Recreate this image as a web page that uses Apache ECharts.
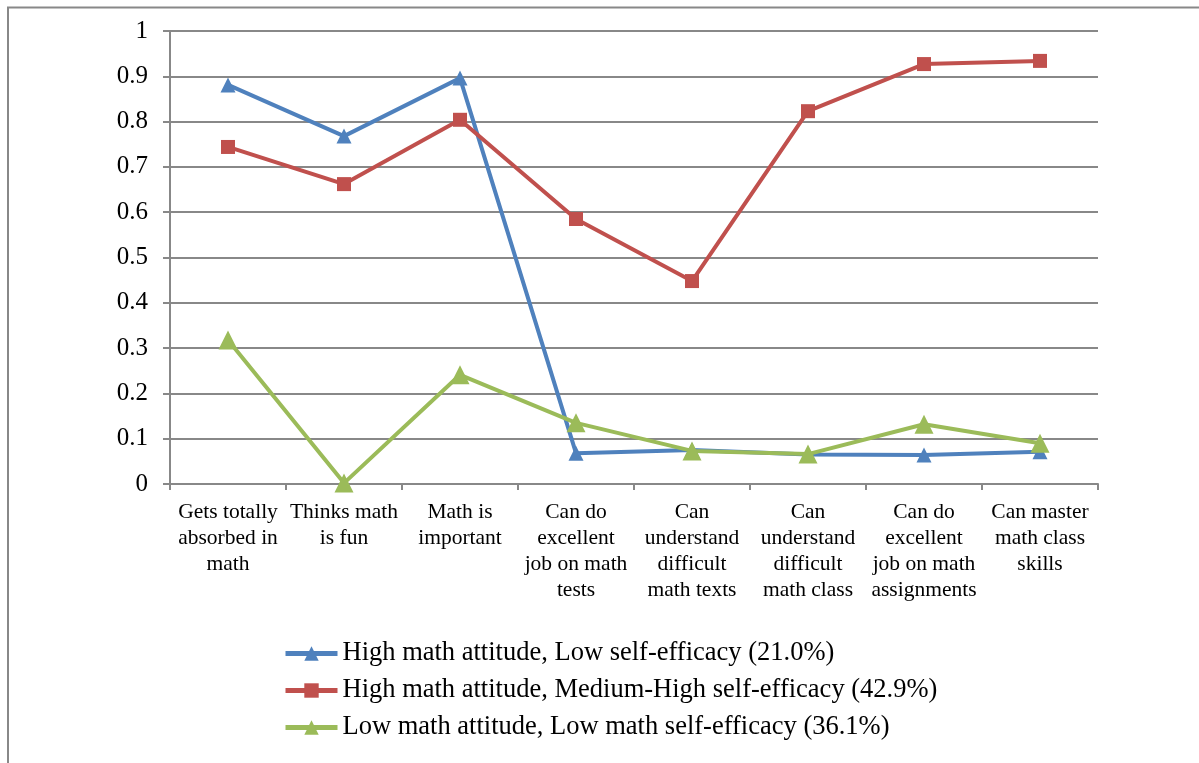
<!DOCTYPE html>
<html>
<head>
<meta charset="utf-8">
<script src="https://cdn.jsdelivr.net/npm/echarts@6/dist/echarts.min.js"></script>
<style>html,body{margin:0;padding:0;background:#fff;}#c{width:1199px;height:763px;}</style>
</head>
<body>
<div id="c"></div>
<script>
const categories = [
  "Gets totally\nabsorbed in\nmath",
  "Thinks math\nis fun",
  "Math is\nimportant",
  "Can do\nexcellent\njob on math\ntests",
  "Can\nunderstand\ndifficult\nmath texts",
  "Can\nunderstand\ndifficult\nmath class",
  "Can do\nexcellent\njob on math\nassignments",
  "Can master\nmath class\nskills"
];
const seriesNames = [
  "High math attitude, Low self-efficacy (21.0%)",
  "High math attitude, Medium-High self-efficacy (42.9%)",
  "Low math attitude, Low math self-efficacy (36.1%)"
];
const highLow = [0.881, 0.768, 0.896, 0.068, 0.075, 0.065, 0.064, 0.071];
const highMedHigh = [0.744, 0.662, 0.804, 0.585, 0.448, 0.823, 0.927, 0.934];
const lowLow = [0.318, 0.002, 0.241, 0.135, 0.073, 0.066, 0.132, 0.090];

const font = "'Liberation Serif', 'Times New Roman', serif";
const chart = echarts.init(document.getElementById('c'));
function mk(name, data, color, symbol, size) {
  return {
    name: name, type: 'line', data: data, symbol: symbol, symbolSize: size,
    showAllSymbol: true,
    lineStyle: {color: color, width: 4}, itemStyle: {color: color},
    emphasis: {disabled: true}, animation: false
  };
}
chart.setOption({
  animation: false,
  graphic: [{
    type: 'polyline', silent: true,
    shape: {points: [[8, 763], [8, 7.5], [1199, 7.5]]},
    style: {stroke: '#888', lineWidth: 2, fill: null}
  }],
  grid: {left: 170, right: 101, top: 31, bottom: 279},
  legend: {
    orient: 'vertical', left: 278, top: 635, itemGap: 10, padding: 5,
    itemWidth: 52, itemHeight: 18,
    lineStyle: {width: 5},
    textStyle: {fontFamily: font, fontSize: 26.5, lineHeight: 26, color: '#000'},
    data: seriesNames
  },
  xAxis: {
    type: 'category', data: categories, boundaryGap: true,
    axisLine: {lineStyle: {color: '#888', width: 2}},
    axisTick: {show: true, length: 6, lineStyle: {color: '#888', width: 2}},
    axisLabel: {interval: 0, fontFamily: font, fontSize: 21.5, color: '#000', lineHeight: 26, margin: 15}
  },
  yAxis: {
    type: 'value', min: 0, max: 1, interval: 0.1,
    axisLine: {show: true, lineStyle: {color: '#888', width: 2}},
    axisTick: {show: true, length: 7, lineStyle: {color: '#888', width: 2}},
    splitLine: {lineStyle: {color: '#888', width: 2}},
    axisLabel: {fontFamily: font, fontSize: 25, color: '#000', margin: 22,
      formatter: v => String(Math.round(v * 10) / 10)}
  },
  series: [
    mk(seriesNames[0], highLow, '#4F81BD', 'triangle', 15),
    mk(seriesNames[1], highMedHigh, '#C0504D', 'rect', 14),
    mk(seriesNames[2], lowLow, '#9BBB59', 'triangle', 19)
  ]
});
</script>
</body>
</html>
